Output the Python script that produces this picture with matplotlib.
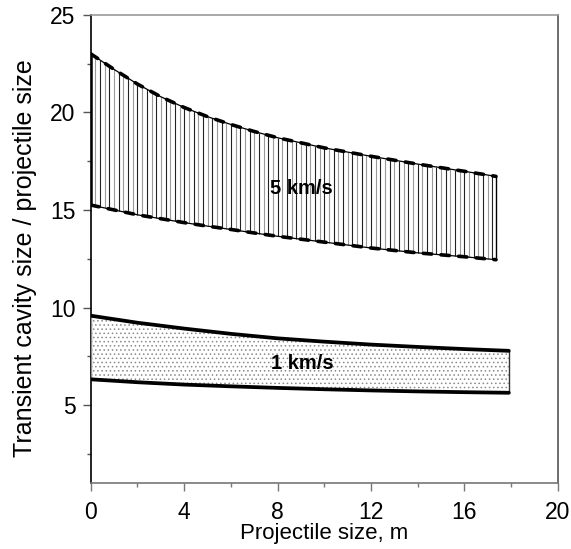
import numpy as np
import matplotlib
matplotlib.use("Agg")
import matplotlib.pyplot as plt
from matplotlib.ticker import MultipleLocator

plt.rcParams['font.family'] = ['Liberation Sans', 'DejaVu Sans']
plt.rcParams['hatch.color'] = '#8a8a8a'
plt.rcParams['hatch.linewidth'] = 0.6

# 5 km/s band (projectile size m -> cavity/projectile)
x_5 = [0, 1, 2, 3, 4, 5, 6, 7, 8, 10, 12, 14, 16, 17.35]
upper_5 = [23.0, 22.2, 21.45, 20.8, 20.25, 19.78, 19.38, 19.02, 18.7,
           18.18, 17.75, 17.35, 16.98, 16.72]
lower_5 = [15.25, 15.0, 14.75, 14.55, 14.35, 14.17, 14.0, 13.82, 13.65,
           13.35, 13.05, 12.8, 12.6, 12.45]

# 1 km/s band
x_1 = [0, 2, 4, 6, 8, 10, 12, 14, 16, 17.9]
upper_1 = [9.58, 9.22, 8.92, 8.65, 8.42, 8.25, 8.1, 7.98, 7.87, 7.78]
lower_1 = [6.32, 6.17, 6.05, 5.96, 5.88, 5.81, 5.75, 5.70, 5.66, 5.63]

labels = ["5 km/s", "1 km/s"]

fig = plt.figure(figsize=(5.71, 5.49), dpi=100)
ax = fig.add_axes([0.159, 0.120, 0.818, 0.853])

# 5 km/s: vertical hatching, alternating black / grey
xs = np.arange(0, x_5[-1], 0.2)
ylo = np.interp(xs, x_5, lower_5)
yhi = np.interp(xs, x_5, upper_5)
cols = ['#222222' if i % 2 == 0 else '#9a9a9a' for i in range(len(xs))]
ax.vlines(xs, ylo, yhi, colors=cols, linewidth=0.8, zorder=2)
ax.vlines([x_5[0]], lower_5[0], upper_5[0], colors='black', linewidth=1.8, zorder=3)
ax.vlines([x_5[-1]], lower_5[-1], upper_5[-1], colors='black', linewidth=1.0, zorder=3)
for yy in (upper_5, lower_5):
    ax.plot(x_5, yy, color='black', linewidth=0.9, zorder=4)
    ax.plot(x_5, yy, color='black', linewidth=2.6, dashes=(2.3, 2.6),
            dash_capstyle='round', zorder=5)

# 1 km/s: stippled band
ax.fill_between(x_1, lower_1, upper_1, facecolor='white', hatch='....',
                edgecolor='#8a8a8a', linewidth=0, zorder=2)
ax.vlines([x_1[0]], lower_1[0], upper_1[0], colors='#8a8a8a', linewidth=1.0, zorder=3)
ax.vlines([x_1[-1]], lower_1[-1], upper_1[-1], colors='#333333', linewidth=1.0, zorder=3)
ax.plot(x_1, upper_1, color='black', linewidth=2.7, solid_capstyle='round', zorder=4)
ax.plot(x_1, lower_1, color='black', linewidth=2.7, solid_capstyle='round', zorder=4)

ax.text(9.0, 16.1, labels[0], fontsize=14.5, fontweight='bold', ha='center', va='center', zorder=6)
ax.text(9.05, 7.15, labels[1], fontsize=14.5, fontweight='bold', ha='center', va='center', zorder=6)

ax.set_xlim(0, 20)
ax.set_ylim(1, 25)
ax.xaxis.set_major_locator(MultipleLocator(4))
ax.xaxis.set_minor_locator(MultipleLocator(2))
ax.yaxis.set_major_locator(MultipleLocator(5))
ax.yaxis.set_minor_locator(MultipleLocator(2.5))

ax.tick_params(axis='x', which='major', length=6, width=1, color='#777777',
               labelsize=16.5, pad=7)
ax.tick_params(axis='x', which='minor', length=3, width=1, color='#777777')
ax.tick_params(axis='y', which='major', length=6, width=1, color='#555555',
               labelsize=16.5, pad=5)
ax.tick_params(axis='y', which='minor', length=3, width=1, color='#555555')

ax.spines['left'].set_color('black')
ax.spines['bottom'].set_color('#777777')
ax.spines['top'].set_color('#999999')
ax.spines['right'].set_color('#555555')
for s in ax.spines.values():
    s.set_linewidth(1.2)

ax.set_xlabel("Projectile size, m", fontsize=16)
ax.xaxis.set_label_coords(0.5, -0.085, transform=ax.transAxes)
ax.xaxis.label.set_va('top')
ax.set_ylabel("Transient cavity size / projectile size", fontsize=18, labelpad=6)
ax.yaxis.set_label_coords(-0.115, 0.48)

fig.savefig("out.png", dpi=100)
